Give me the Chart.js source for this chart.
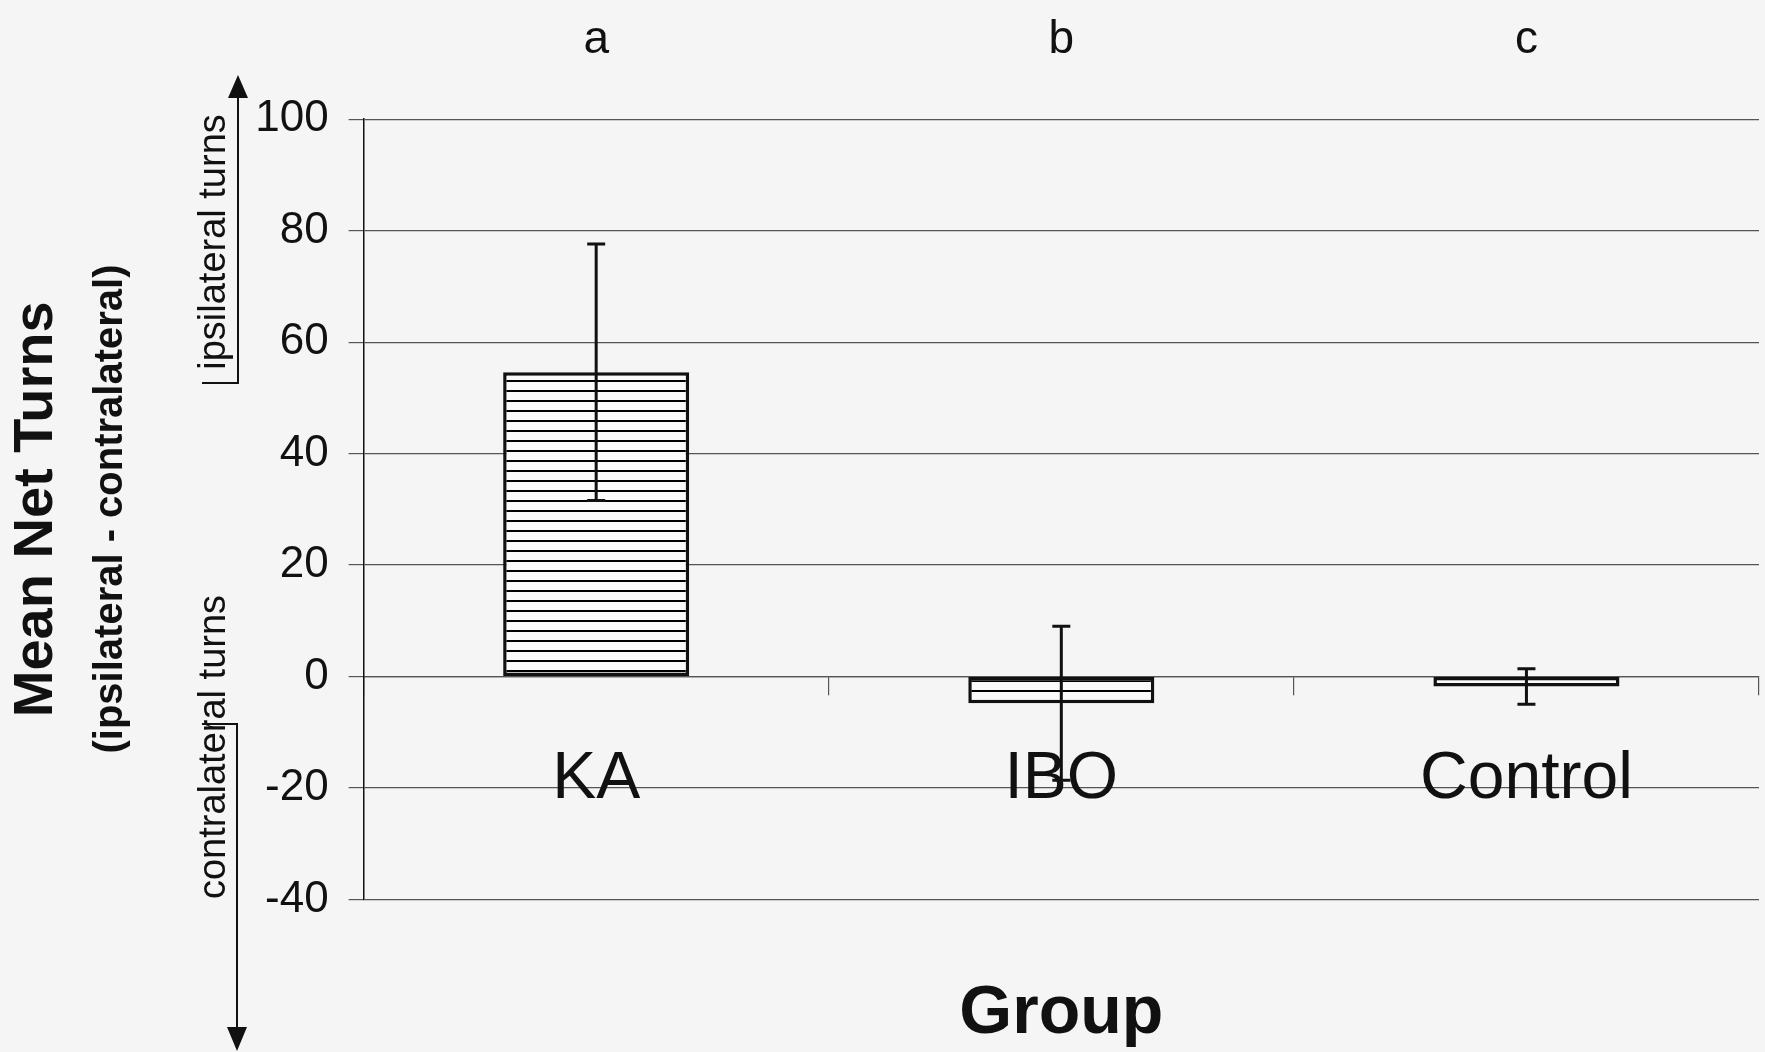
<!DOCTYPE html>
<html>
<head>
<meta charset="utf-8">
<title>Mean Net Turns by Group</title>
<script src="https://cdn.jsdelivr.net/npm/chart.js@4.4.1/dist/chart.umd.min.js"></script>
<style>
  html, body { margin: 0; padding: 0; background: #f5f5f5; }
  #wrap { width: 1765px; height: 1052px; }
</style>
</head>
<body>
<div id="wrap"><canvas id="turnsChart" width="1765" height="1052"></canvas></div>
<script>
// values
const groups = ['KA', 'IBO', 'Control'];
const sigLetters = ['a', 'b', 'c'];
const meanNetTurns = [54.6, -4.8, -1.8];
const errorMargins = [23.0, 13.8, 3.2];
const yTicks = [-40, -20, 0, 20, 40, 60, 80, 100];

const FONT = "'Liberation Sans', Arial, sans-serif";
const INK = '#111';
Chart.defaults.font.family = FONT;

// horizontal line fill, like the old Excel pattern
function stripePattern() {
    const c = document.createElement('canvas');
    c.width = 8;
    c.height = 10;
    const g = c.getContext('2d');
    g.fillStyle = '#fafafa';
    g.fillRect(0, 0, 8, 10);
    g.fillStyle = '#000';
    g.fillRect(0, 0, 8, 2);
    return g.createPattern(c, 'repeat');
}
const stripes = stripePattern();

const paperBackground = {
    id: 'paperBackground',
    beforeDraw(chart) {
        const ctx = chart.ctx;
        ctx.save();
        ctx.fillStyle = '#f5f5f5';
        ctx.fillRect(0, 0, chart.width, chart.height);
        ctx.restore();
    }
};

const errorBars = {
    id: 'errorBars',
    afterDatasetsDraw(chart) {
        const ctx = chart.ctx;
        const y = chart.scales.y;
        const bars = chart.getDatasetMeta(0).data;
        ctx.save();
        ctx.strokeStyle = INK;
        ctx.lineWidth = 3;
        bars.forEach((bar, i) => {
            const top = y.getPixelForValue(meanNetTurns[i] + errorMargins[i]);
            const bottom = y.getPixelForValue(meanNetTurns[i] - errorMargins[i]);
            ctx.beginPath();
            ctx.moveTo(bar.x, top);
            ctx.lineTo(bar.x, bottom);
            ctx.moveTo(bar.x - 9, top);
            ctx.lineTo(bar.x + 9, top);
            ctx.moveTo(bar.x - 9, bottom);
            ctx.lineTo(bar.x + 9, bottom);
            ctx.stroke();
        });
        ctx.restore();
    }
};

function rotatedText(ctx, text, x, y, font) {
    ctx.save();
    ctx.translate(x, y);
    ctx.rotate(-Math.PI / 2);
    ctx.font = font;
    ctx.textAlign = 'center';
    ctx.textBaseline = 'alphabetic';
    ctx.fillText(text, 0, 0);
    ctx.restore();
}

// subtitle and the two direction arrows left of the axis
const sideNotes = {
    id: 'sideNotes',
    afterDraw(chart) {
        const ctx = chart.ctx;
        ctx.save();
        ctx.fillStyle = INK;
        ctx.strokeStyle = INK;
        rotatedText(ctx, '(ipsilateral - contralateral)', 122, 509, 'bold 40px ' + FONT);
        rotatedText(ctx, 'ipsilateral turns', 225, 242, '38px ' + FONT);
        rotatedText(ctx, 'contralateral turns', 225, 747, '38px ' + FONT);

        ctx.lineWidth = 2;
        ctx.beginPath();
        ctx.moveTo(202, 383);
        ctx.lineTo(238, 383);
        ctx.lineTo(238, 96);
        ctx.moveTo(202, 724);
        ctx.lineTo(237, 724);
        ctx.lineTo(237, 1029);
        ctx.stroke();

        ctx.beginPath();
        ctx.moveTo(238, 75);
        ctx.lineTo(228, 98);
        ctx.lineTo(248, 98);
        ctx.closePath();
        ctx.moveTo(237, 1051);
        ctx.lineTo(227, 1027);
        ctx.lineTo(247, 1027);
        ctx.closePath();
        ctx.fill();
        ctx.restore();
    }
};

const ctx = document.getElementById('turnsChart').getContext('2d');
new Chart(ctx, {
    type: 'bar',
    data: {
        labels: groups,
        datasets: [{
            label: 'Mean Net Turns',
            data: meanNetTurns,
            backgroundColor: [stripes, stripes, '#fafafa'],
            borderColor: INK,
            borderWidth: 3.5,
            borderSkipped: false,
            barPercentage: 0.4,
            categoryPercentage: 1.0
        }]
    },
    options: {
        responsive: false,
        animation: false,
        layout: {
            padding: { top: -38, right: 6, bottom: -3, left: 0 }
        },
        plugins: {
            legend: { display: false },
            tooltip: { enabled: false },
            title: {
                display: true,
                position: 'bottom',
                fullSize: false,
                text: 'Group',
                color: INK,
                font: { size: 68, weight: 'bold' },
                padding: { top: 74, bottom: 0 }
            }
        },
        scales: {
            x: {
                position: { y: 0 },
                offset: true,
                grid: {
                    drawOnChartArea: false,
                    drawTicks: true,
                    tickLength: 18,
                    color: '#555',
                    lineWidth: 1.2
                },
                border: { display: true, color: '#555', width: 1.2 },
                ticks: {
                    color: INK,
                    font: { size: 66 },
                    padding: 46,
                    maxRotation: 0,
                    autoSkip: false
                }
            },
            x2: {
                type: 'category',
                labels: sigLetters,
                position: 'top',
                offset: true,
                grid: { display: false, drawTicks: false, tickLength: 0 },
                border: { display: false },
                ticks: {
                    color: INK,
                    font: { size: 46 },
                    padding: 51,
                    maxRotation: 0
                }
            },
            y: {
                min: yTicks[0],
                max: yTicks[yTicks.length - 1],
                afterBuildTicks: scale => {
                    scale.ticks = yTicks.map(v => ({ value: v }));
                },
                grid: {
                    color: '#555',
                    lineWidth: 1.2,
                    drawTicks: true,
                    tickLength: 15
                },
                border: { display: true, color: INK, width: 1.5 },
                ticks: {
                    color: INK,
                    font: { size: 44 },
                    padding: 20
                },
                title: {
                    display: true,
                    text: 'Mean Net Turns',
                    color: INK,
                    font: { size: 56, weight: 'bold' },
                    padding: { top: 3, bottom: 165 }
                }
            }
        }
    },
    plugins: [paperBackground, errorBars, sideNotes]
});
</script>
</body>
</html>
